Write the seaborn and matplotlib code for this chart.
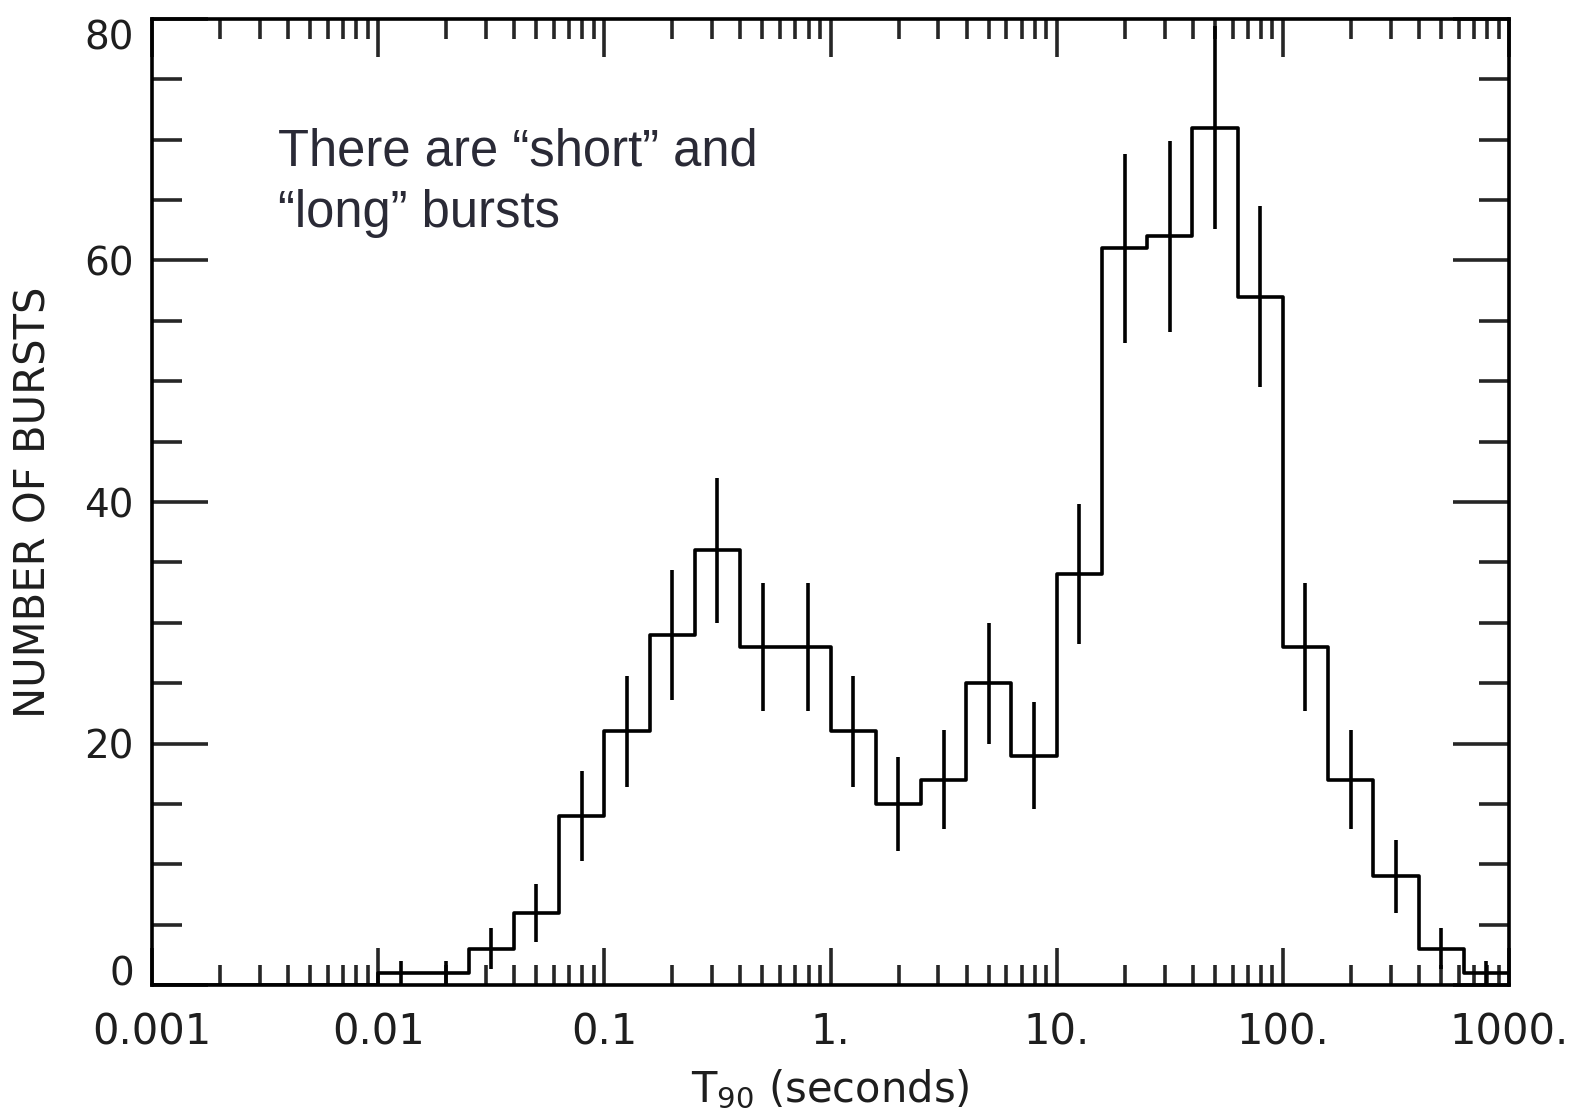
import numpy as np
import pandas as pd
import matplotlib
matplotlib.use("Agg")
import matplotlib.pyplot as plt
import matplotlib.ticker as mticker
import seaborn as sns

# ---- data (bins are 0.2 dex wide in log10 T90) ----
bin_left_log = [-3.0, -2.8, -2.6, -2.4, -2.2,
                -2.0, -1.8, -1.6, -1.4, -1.2, -1.0, -0.8, -0.6, -0.4, -0.2,
                0.0, 0.2, 0.4, 0.6, 0.8, 1.0, 1.2, 1.4, 1.6, 1.8,
                2.0, 2.2, 2.4, 2.6, 2.8]
counts = [0, 0, 0, 0, 0,
          1, 1, 3, 6, 14, 21, 29, 36, 28, 28,
          21, 15, 17, 25, 19, 34, 61, 62, 71, 57,
          28, 17, 9, 3, 1]
errors = [0, 0, 0, 0, 0,
          1.0, 1.0, 1.7, 2.4, 3.7, 4.6, 5.4, 6.0, 5.3, 5.3,
          4.6, 3.9, 4.1, 5.0, 4.4, 5.8, 7.8, 7.9, 8.4, 7.5,
          5.3, 4.1, 3.0, 1.7, 1.0]
bin_width_log = 0.2

xtick_values = [0.001, 0.01, 0.1, 1, 10, 100, 1000]
xtick_labels = ["0.001", "0.01", "0.1", "1.", "10.", "100.", "1000."]
ytick_values = [0, 20, 40, 60, 80]
ytick_labels = ["0", "20", "40", "60", "80"]

annotation_lines = ["There are \u201cshort\u201d and", "\u201clong\u201d bursts"]

# ---- build table ----
df = pd.DataFrame({"left": bin_left_log, "count": counts, "err": errors})
df["center"] = 10 ** (df["left"] + bin_width_log / 2)

sns.set_theme(style="white")
plt.rcParams["font.family"] = ["DejaVu Sans"]

W, H = 1577, 1118
fig = plt.figure(figsize=(W / 100, H / 100), dpi=100)
ax = fig.add_axes([152 / W, 1 - 985 / H, (1509 - 152) / W, (985 - 19) / H])

lw = 2.6
sns.histplot(data=df, x="center", weights="count", log_scale=True,
             binwidth=bin_width_log, binrange=(-3, 3),
             element="step", fill=False, color="black", linewidth=lw, ax=ax)

sel = df[df["count"] > 0]
ax.errorbar(sel["center"], sel["count"], yerr=sel["err"], fmt="none",
            ecolor="black", elinewidth=lw, capsize=0)

ax.set_xlim(0.001, 1000)
ax.set_ylim(0, 80)

ax.xaxis.set_major_locator(mticker.FixedLocator(xtick_values))
ax.xaxis.set_major_formatter(mticker.FixedFormatter(xtick_labels))
ax.xaxis.set_minor_locator(mticker.LogLocator(base=10, subs=np.arange(2, 10)))
ax.xaxis.set_minor_formatter(mticker.NullFormatter())
ax.yaxis.set_major_locator(mticker.FixedLocator(ytick_values))
ax.yaxis.set_major_formatter(mticker.FixedFormatter(ytick_labels))
ax.yaxis.set_minor_locator(mticker.MultipleLocator(5))

for s in ax.spines.values():
    s.set_visible(True)
    s.set_linewidth(lw)
    s.set_color("black")

tick_color = "#1e1e1e"
ax.tick_params(axis="x", which="major", direction="in", length=27, width=lw,
               top=True, bottom=True, labelsize=30, pad=19, labelcolor=tick_color)
ax.tick_params(axis="x", which="minor", direction="in", length=14.5, width=lw,
               top=True, bottom=True)
ax.tick_params(axis="y", which="major", direction="in", length=40, width=lw,
               left=True, right=True, labelsize=28, pad=13, labelcolor=tick_color)
ax.tick_params(axis="y", which="minor", direction="in", length=21.5, width=lw,
               left=True, right=True)

fig.canvas.draw()
ylabels = ax.get_yticklabels()
ylabels[0].set_va("baseline")
ylabels[-1].set_va("top")

ax.set_xlabel("T$_{90}$ (seconds)", fontsize=30, color=tick_color)
ax.set_ylabel("NUMBER OF BURSTS", fontsize=30, color=tick_color)
ax.xaxis.set_label_coords(0.5, -0.086)
ax.yaxis.set_label_coords(-0.072, 0.5)

ax.text(0.093, (985 - 165) / 966, annotation_lines[0], transform=ax.transAxes,
        fontsize=36.5, family=["Liberation Sans"], color="#2a2a36", va="baseline", ha="left")
ax.text(0.093, (985 - 227) / 966, annotation_lines[1], transform=ax.transAxes,
        fontsize=36.5, family=["Liberation Sans"], color="#2a2a36", va="baseline", ha="left")

fig.savefig("out.png", dpi=100, facecolor="white")
